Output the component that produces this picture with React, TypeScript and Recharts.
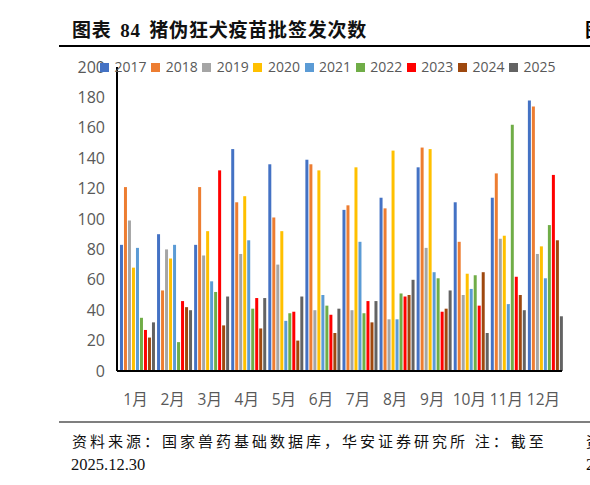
import React from "react";
import { BarChart, Bar, XAxis, YAxis, Legend } from "recharts";

const months = ["1月", "2月", "3月", "4月", "5月", "6月", "7月", "8月", "9月", "10月", "11月", "12月"];
const years = ["2017", "2018", "2019", "2020", "2021", "2022", "2023", "2024", "2025"];
const colors = ["#4472C4", "#ED7D31", "#A5A5A5", "#FFC000", "#5B9BD5", "#70AD47", "#FF0000", "#9E480E", "#636363"];

const y2017 = [83, 90, 83, 146, 136, 139, 106, 114, 134, 111, 114, 178];
const y2018 = [121, 53, 121, 111, 101, 136, 109, 107, 147, 85, 130, 174];
const y2019 = [99, 80, 76, 77, 70, 40, 40, 34, 81, 50, 87, 77];
const y2020 = [68, 74, 92, 115, 92, 132, 134, 145, 146, 64, 89, 82];
const y2021 = [81, 83, 59, 86, 33, 50, 85, 34, 65, 54, 44, 61];
const y2022 = [35, 19, 52, 41, 38, 43, 38, 51, 61, 63, 162, 96];
const y2023 = [27, 46, 132, 48, 39, 37, 46, 49, 39, 43, 62, 129];
const y2024 = [22, 42, 30, 28, 20, 25, 32, 50, 41, 65, 50, 86];
const y2025 = [32, 40, 49, 48, 49, 41, 46, 60, 53, 25, 40, 36];

const yTicks = [0, 20, 40, 60, 80, 100, 120, 140, 160, 180, 200];

const series = [y2017, y2018, y2019, y2020, y2021, y2022, y2023, y2024, y2025];

const data = months.map((m, i) => {
  const row: Record<string, string | number> = { month: m };
  years.forEach((y, k) => {
    row[y] = series[k][i];
  });
  return row;
});

const sans = '"Open Sans", "Noto Sans CJK SC", sans-serif';
const serif = '"Liberation Serif", "Noto Sans CJK SC", serif';

function renderLegend(props: any) {
  const items = props.payload || [];
  return (
    <div style={{ display: "flex", fontFamily: sans, fontSize: 14, color: "#595959", lineHeight: "16px" }}>
      {items.map((it: any) => (
        <div key={it.value} style={{ display: "flex", alignItems: "center", marginRight: 4.6 }}>
          <span style={{ width: 9, height: 9, background: it.color, display: "inline-block", marginRight: 5.5 }} />
          <span>{it.value}</span>
        </div>
      ))}
    </div>
  );
}

export default function App() {
  return (
    <div
      style={{
        position: "absolute",
        left: 0,
        top: 0,
        width: 590,
        height: 485,
        overflow: "hidden",
        background: "#fff",
      }}
    >
      <div
        style={{
          position: "absolute",
          left: 72,
          top: 15,
          fontFamily: serif,
          fontWeight: "bold",
          fontSize: 19,
          letterSpacing: 0.8,
          wordSpacing: 3,
          color: "#111",
          whiteSpace: "nowrap",
        }}
      >
        图表 84 猪伪狂犬疫苗批签发次数
      </div>
      <div style={{ position: "absolute", left: 585, top: 15, fontFamily: serif, fontWeight: "bold", fontSize: 19 }}>图</div>
      <div style={{ position: "absolute", left: 59, top: 45, width: 531, height: 1.5, background: "#000" }} />

      <div style={{ position: "absolute", left: 0, top: 0 }}>
        <BarChart
          width={590}
          height={420}
          data={data}
          margin={{ top: 67, right: 28, bottom: 19, left: 0 }}
          barCategoryGap="8%"
          barGap={1}
        >
          <XAxis
            dataKey="month"
            height={30}
            interval={0}
            tickLine={false}
            tickMargin={17}
            axisLine={{ stroke: "#000", strokeWidth: 2 }}
            tick={{ fill: "#595959", fontSize: 15.5, fontFamily: sans }}
          />
          <YAxis
            width={117}
            domain={[0, 200]}
            ticks={yTicks}
            interval={0}
            tickLine={false}
            tickSize={6}
            tickMargin={6}
            axisLine={{ stroke: "#000", strokeWidth: 2 }}
            tick={{ fill: "#595959", fontSize: 16, fontFamily: sans }}
          />
          <Legend
            verticalAlign="middle"
            layout="horizontal"
            content={renderLegend}
            wrapperStyle={{ position: "absolute", top: 59, left: 100, width: 480 }}
          />
          {years.map((y, k) => (
            <Bar key={y} dataKey={y} fill={colors[k]} isAnimationActive={false} />
          ))}
        </BarChart>
      </div>

      <div style={{ position: "absolute", left: 59, top: 421, width: 531, height: 1.5, background: "#7f7f7f" }} />
      <div
        style={{
          position: "absolute",
          left: 72,
          top: 430,
          fontFamily: serif,
          fontSize: 15,
          letterSpacing: 3,
          color: "#111",
          whiteSpace: "nowrap",
        }}
      >
        资料来源：国家兽药基础数据库，华安证券研究所 注：截至
      </div>
      <div style={{ position: "absolute", left: 586, top: 430, fontFamily: serif, fontSize: 15 }}>资</div>
      <div style={{ position: "absolute", left: 71, top: 455, fontFamily: serif, fontSize: 16.5, color: "#111" }}>
        2025.12.30
      </div>
      <div style={{ position: "absolute", left: 586, top: 455, fontFamily: serif, fontSize: 16.5 }}>2</div>
    </div>
  );
}
